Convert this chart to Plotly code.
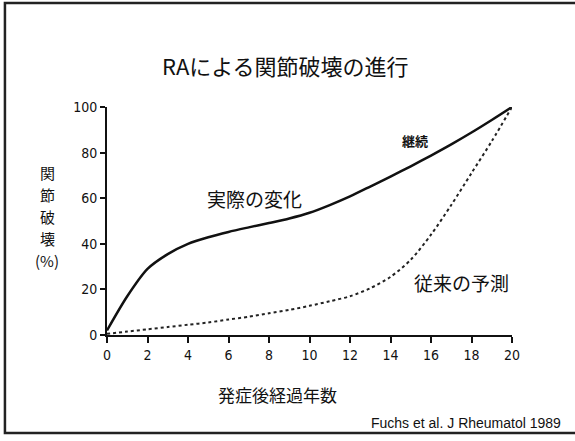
import plotly.graph_objects as go

years = list(range(0, 21))
actual = [2, 17, 29, 35.5, 40, 42.9, 45.2, 47.2, 49.1, 51.1, 53.6, 57, 60.8, 65.1, 69.5, 74, 78.7, 83.6, 88.8, 94.3, 100]
predicted = [0.5, 1.5, 2.5, 3.5, 4.5, 5.5, 6.8, 8, 9.5, 11, 12.8, 14.8, 17, 20.5, 25.5, 33, 44, 57, 71, 85, 100]
x_ticks = [0, 2, 4, 6, 8, 10, 12, 14, 16, 18, 20]
y_ticks = [0, 20, 40, 60, 80, 100]
y_title_chars = ["関", "節", "破", "壊", "(%)"]

JP = "Noto Sans CJK JP"
NARROW = "Liberation Sans Narrow, Arial Narrow, DejaVu Sans Condensed, sans-serif"

fig = go.Figure()
fig.add_trace(go.Scatter(x=years, y=actual, mode="lines", line=dict(color="#111", width=2.5, shape="spline", smoothing=0.8),
                         showlegend=False, hoverinfo="skip"))
fig.add_trace(go.Scatter(x=years, y=predicted, mode="lines", line=dict(color="#222", width=2, dash="dot", shape="spline", smoothing=0.8),
                         showlegend=False, hoverinfo="skip"))

fig.update_layout(
    width=575, height=441,
    margin=dict(l=107, r=63, t=107, b=106),
    paper_bgcolor="white", plot_bgcolor="white",
    xaxis=dict(range=[0, 20], tickvals=x_ticks, showline=True, linecolor="#111", linewidth=2,
               ticks="outside", ticklen=6, tickwidth=1.5, tickcolor="#111", showgrid=False, zeroline=False,
               tickfont=dict(family=NARROW, size=14, color="#111")),
    yaxis=dict(range=[0, 100], tickvals=y_ticks, showline=True, linecolor="#111", linewidth=2,
               ticks="outside", ticklen=5, tickwidth=1.5, tickcolor="#111", showgrid=False, zeroline=False,
               tickfont=dict(family=NARROW, size=14, color="#111")),
    shapes=[dict(type="rect", xref="paper", yref="paper", x0=-0.252, x1=1.2, y0=-0.43, y1=1.456,
                 line=dict(color="#222", width=2.5))],
)

anns = [
    dict(text="RAによる関節破壊の進行", xref="paper", yref="paper", x=0.44, y=1.184, font=dict(family=JP, size=22, color="#111")),
    dict(text="発症後経過年数", xref="paper", yref="paper", x=0.422, y=-0.263, font=dict(family=JP, size=17, color="#111")),
    dict(text="Fuchs et al. J Rheumatol 1989", xref="paper", yref="paper", x=1.126, y=-0.386, xanchor="right",
         font=dict(family="Liberation Sans, Arial, sans-serif", size=14, color="#111")),
    dict(text="実際の変化", xref="x", yref="y", x=7.3, y=60, font=dict(family=JP, size=19, color="#111")),
    dict(text="従来の予測", xref="x", yref="y", x=17.5, y=23.2, font=dict(family=JP, size=19, color="#111")),
    dict(text="<b>継続</b>", xref="x", yref="y", x=15.2, y=85.5, font=dict(family=JP, size=13, color="#111")),
]
# stacked vertical y-axis title, one glyph per row (pixel rows 172..260)
for i, ch in enumerate(y_title_chars):
    ypix = 172 + 22 * i
    anns.append(dict(text=ch, xref="paper", yref="paper", x=-0.148, y=(335 - ypix) / 228,
                     font=dict(family=JP, size=15, color="#111")))

for a in anns:
    a.setdefault("showarrow", False)
    a.setdefault("xanchor", "center")
    a.setdefault("yanchor", "middle")
    fig.add_annotation(**a)

fig.write_html("out.html", config={"displayModeBar": False},
               post_script="document.body.style.margin='0';")
